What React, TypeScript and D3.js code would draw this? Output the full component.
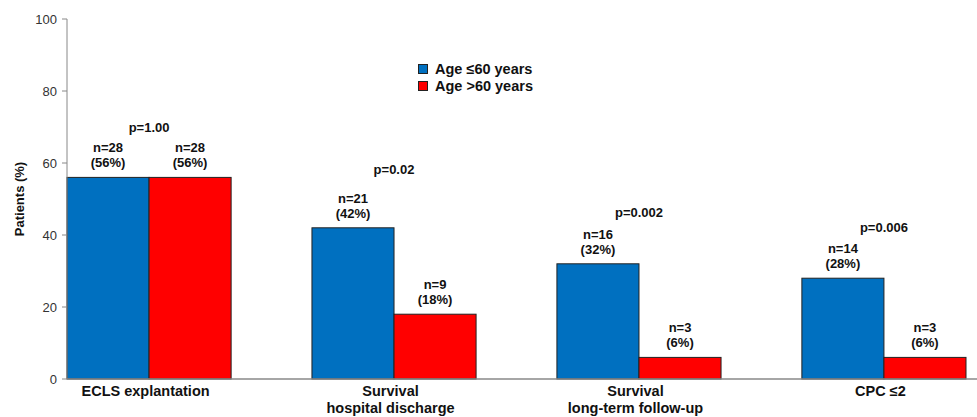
import React from "react";
import * as d3 from "d3";

const categories = [["ECLS explantation"], ["Survival", "hospital discharge"], ["Survival", "long-term follow-up"], ["CPC ≤2"]];
const seriesNames = ["Age ≤60 years", "Age >60 years"];
const young = [56, 42, 32, 28];
const old = [56, 18, 6, 6];
const youngN = [28, 21, 16, 14];
const oldN = [28, 9, 3, 3];
const pValues = ["p=1.00", "p=0.02", "p=0.002", "p=0.006"];
const pLabelAt = [68.6, 57, 45, 40.8];
const yTicks = [0, 20, 40, 60, 80, 100];
const colors = ["#0070C0", "#FF0000"];

const W = 977, H = 417;
const left = 67, right = 966, top = 19, bottom = 379;

export default function App() {
  const keys = categories.map((_, i) => String(i));
  const x0 = d3.scaleBand<string>().domain(keys).range([left, right]).paddingInner(0.33).paddingOuter(0);
  const x1 = d3.scaleBand<string>().domain(["0", "1"]).range([0, x0.bandwidth()]).padding(0);
  const y = d3.scaleLinear().domain([0, 100]).range([bottom, top]);
  const series = [young, old];
  const ns = [youngN, oldN];
  const font = "Arial, 'Liberation Sans', sans-serif";

  return (
    <svg width={W} height={H} style={{ position: "absolute", left: 0, top: 0, background: "#fff" }} fontFamily={font}>
      {/* bars */}
      {keys.map((k, i) => (
        <g key={k}>
          {series.map((s, j) => {
            const bx = (x0(k) as number) + (x1(String(j)) as number);
            const bw = x1.bandwidth();
            return (
              <g key={j}>
                <rect x={bx} y={y(s[i])} width={bw} height={y(0) - y(s[i])} fill={colors[j]} stroke="#222" strokeWidth={1} />
                <text x={bx + bw / 2} y={y(s[i]) - 25} textAnchor="middle" fontSize={13} fontWeight="bold" fill="#111">{`n=${ns[j][i]}`}</text>
                <text x={bx + bw / 2} y={y(s[i]) - 10} textAnchor="middle" fontSize={13} fontWeight="bold" fill="#111">{`(${s[i]}%)`}</text>
              </g>
            );
          })}
          <text x={(x0(k) as number) + x0.bandwidth() / 2} y={y(pLabelAt[i])} textAnchor="middle" fontSize={13} fontWeight="bold" fill="#111">{pValues[i]}</text>
          {categories[i].map((line, li) => (
            <text key={li} x={(x0(k) as number) + x0.bandwidth() / 2 - 3.5} y={396 + li * 16.5} textAnchor="middle" fontSize={14.5} fontWeight="bold" fill="#111">{line}</text>
          ))}
        </g>
      ))}
      {/* axes */}
      <line x1={left} x2={left} y1={top} y2={bottom} stroke="#888" strokeWidth={1} />
      <line x1={left} x2={W} y1={bottom} y2={bottom} stroke="#888" strokeWidth={1.5} />
      {yTicks.map((t) => (
        <g key={t}>
          <line x1={left - 5} x2={left} y1={y(t)} y2={y(t)} stroke="#888" />
          <text x={left - 10} y={y(t) + 4.5} textAnchor="end" fontSize={13} fill="#333">{t}</text>
        </g>
      ))}
      <text transform={`translate(24,${(top + bottom) / 2}) rotate(-90)`} textAnchor="middle" fontSize={13} fontWeight="bold" fill="#111">Patients (%)</text>
      {/* legend */}
      {seriesNames.map((nm, j) => (
        <g key={nm}>
          <rect x={418.5} y={64.5 + j * 17} width={9} height={9} fill={colors[j]} stroke="#222" strokeWidth={1} />
          <text x={435} y={74 + j * 17} fontSize={14.5} fontWeight="bold" fill="#111">{nm}</text>
        </g>
      ))}
    </svg>
  );
}
